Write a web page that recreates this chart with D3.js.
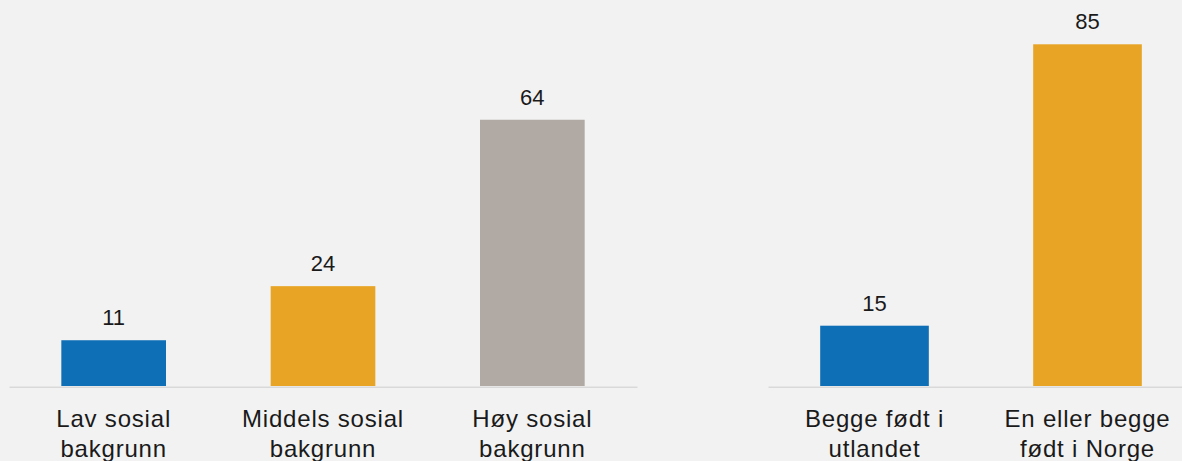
<!DOCTYPE html>
<html>
<head>
<meta charset="utf-8">
<script src="https://cdn.jsdelivr.net/npm/d3@7"></script>
<style>
  html, body { margin: 0; padding: 0; background: #f2f2f2; }
  svg { display: block; }
</style>
</head>
<body>
<svg id="chart" width="1182" height="461"></svg>
<script>
// Left panel: social background
const leftCategories = [["Lav sosial", "bakgrunn"], ["Middels sosial", "bakgrunn"], ["Høy sosial", "bakgrunn"]];
const leftValues = [11, 24, 64];
const leftColors = ["#0f6fb6", "#e8a424", "#b1a9a3"];

// Right panel: parents' birthplace
const rightCategories = [["Begge født i", "utlandet"], ["En eller begge", "født i Norge"]];
const rightValues = [15, 85];
const rightColors = ["#0f6fb6", "#e8a424"];

const svg = d3.select("#chart");
svg.append("rect").attr("width", 1182).attr("height", 461).attr("fill", "#f2f2f2");

const baseY = 386;
const font = "'Liberation Sans', Arial, sans-serif";

function panel(cats, vals, colors, xRange, yMax, yTopPx, padding) {
  const keys = cats.map(c => c.join(" "));
  const x = d3.scaleBand().domain(keys).range(xRange).paddingInner(padding).paddingOuter(padding / 2);
  const y = d3.scaleLinear().domain([0, yMax]).range([baseY, yTopPx]);
  const g = svg.append("g");

  g.selectAll("rect.bar").data(vals).join("rect")
    .attr("class", "bar")
    .attr("x", (d, i) => x(keys[i]))
    .attr("width", x.bandwidth())
    .attr("y", d => y(d))
    .attr("height", d => y(0) - y(d))
    .attr("fill", (d, i) => colors[i]);

  g.selectAll("text.val").data(vals).join("text")
    .attr("class", "val")
    .attr("x", (d, i) => x(keys[i]) + x.bandwidth() / 2)
    .attr("y", d => y(d) - 15)
    .attr("text-anchor", "middle")
    .attr("font-family", font)
    .attr("font-size", 22)
    .attr("fill", "#1a1a1a")
    .text(d => d);

  const axis = d3.axisBottom(x).tickSize(0).tickSizeOuter(0).tickFormat("");
  const ax = g.append("g").attr("transform", `translate(0,${baseY + 0.8})`).call(axis);
  ax.select(".domain").attr("stroke", "#d9d9d9").attr("stroke-width", 1.6);
  ax.selectAll(".tick").each(function(d, i) {
    const t = d3.select(this).select("text")
      .attr("y", 0).attr("dy", null)
      .attr("font-family", font)
      .attr("font-size", 24)
      .attr("letter-spacing", "0.8px")
      .attr("fill", "#1a1a1a")
      .attr("text-anchor", "middle");
    cats[i].forEach((line, j) => {
      t.append("tspan").attr("x", 0).attr("y", 40 + j * 30.5).text(line);
    });
  });
  return g;
}

panel(leftCategories, leftValues, leftColors, [9, 637], 80, baseY - 80 * 4.16, 0.5);
panel(rightCategories, rightValues, rightColors, [768, 1194], 90, baseY - 90 * 4.02, 0.49);
</script>
</body>
</html>
